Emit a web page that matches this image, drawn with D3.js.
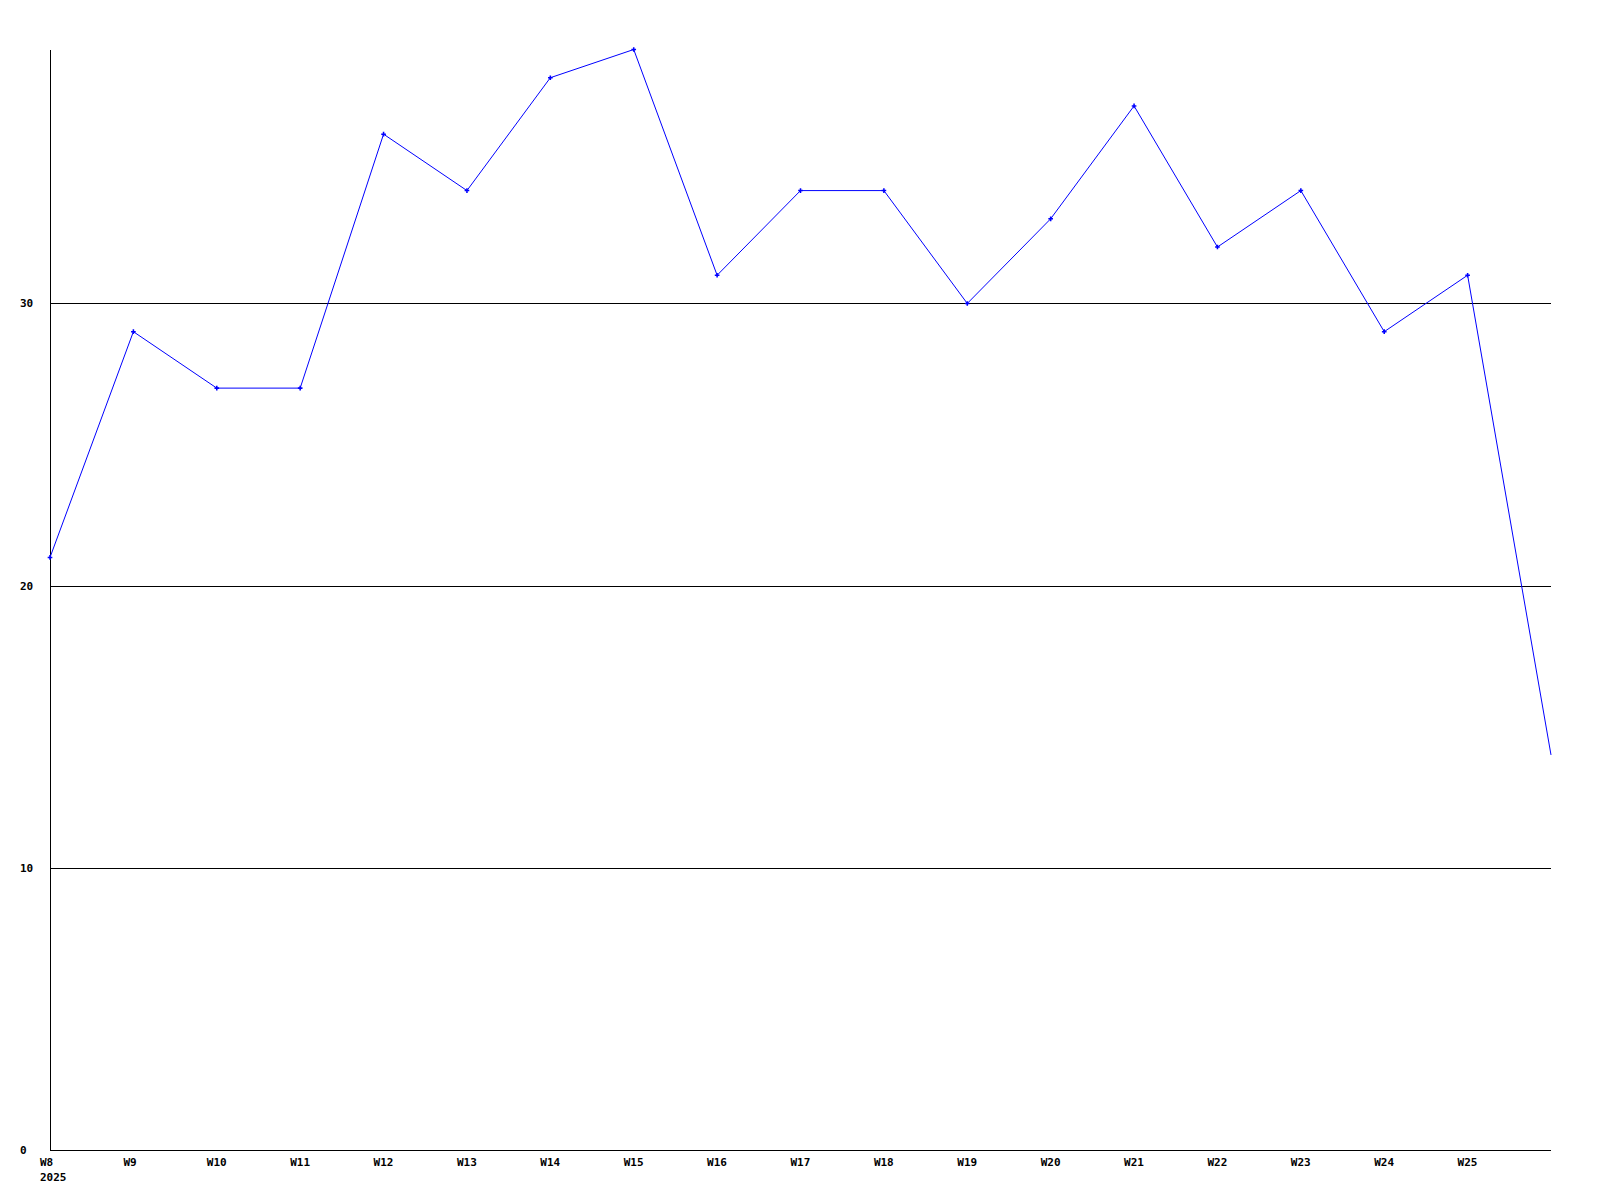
<!DOCTYPE html>
<html>
<head>
<meta charset="utf-8">
<script src="https://cdn.jsdelivr.net/npm/d3@7"></script>
<style>
  html, body { margin: 0; padding: 0; background: #fff; }
  svg { display: block; }
  text { font-family: "DejaVu Sans Mono", "Liberation Mono", monospace; font-weight: bold; font-size: 11px; fill: #000; }
</style>
</head>
<body>
<script>
const categories = ["W8","W9","W10","W11","W12","W13","W14","W15","W16","W17","W18","W19","W20","W21","W22","W23","W24","W25","W26"];
const values = [21, 29, 27, 27, 36, 34, 38, 39, 31, 34, 34, 30, 33, 37, 32, 34, 29, 31, 14];
const xTickLabels = ["W8","W9","W10","W11","W12","W13","W14","W15","W16","W17","W18","W19","W20","W21","W22","W23","W24","W25"];
const yearLabel = "2025";
const yTicks = [0, 10, 20, 30];

(function () {
const W = 1600, H = 1200;
const mLeft = 50, mRight = 1551, mTop = 49.5, mBottom = 1150;

const svg = d3.select("body").append("svg").attr("width", W).attr("height", H);

const x = d3.scaleLinear().domain([0, categories.length - 1]).range([mLeft, mRight]);
const y = d3.scaleLinear().domain([0, 39]).range([mBottom, mTop]);

// gridlines
svg.append("g").selectAll("line").data(yTicks.filter(d => d > 0)).join("line")
  .attr("x1", mLeft).attr("x2", mRight)
  .attr("y1", d => Math.round(y(d)) + 0.5).attr("y2", d => Math.round(y(d)) + 0.5)
  .attr("stroke", "#000").attr("stroke-width", 1).attr("shape-rendering", "crispEdges");

// y axis line
svg.append("line").attr("x1", mLeft + 0.5).attr("x2", mLeft + 0.5).attr("y1", 50).attr("y2", mBottom + 1)
  .attr("stroke", "#000").attr("shape-rendering", "crispEdges");
// baseline
svg.append("line").attr("x1", mLeft).attr("x2", mRight).attr("y1", mBottom + 0.5).attr("y2", mBottom + 0.5)
  .attr("stroke", "#000").attr("shape-rendering", "crispEdges");

// y labels
svg.append("g").selectAll("text").data(yTicks).join("text")
  .attr("x", 20).attr("y", d => Math.round(y(d)) + 4)
  .text(d => d);

// x labels
svg.append("g").selectAll("text").data(xTickLabels).join("text")
  .attr("x", (d, i) => x(i) - 10).attr("y", mBottom + 16)
  .text(d => d);
svg.append("text").attr("x", x(0) - 10).attr("y", mBottom + 31).text(yearLabel);

// line
const line = d3.line().x((d, i) => x(i)).y(d => y(d));
svg.append("path").datum(values).attr("d", line)
  .attr("fill", "none").attr("stroke", "#0000ff").attr("stroke-width", 1);

// markers
svg.append("g").selectAll("path").data(values.slice(0, values.length - 1)).join("path")
  .attr("d", d3.symbol(d3.symbolCross, 12))
  .attr("transform", (d, i) => `translate(${x(i)},${y(d)})`)
  .attr("fill", "#0000ff");
})();
</script>
</body>
</html>
